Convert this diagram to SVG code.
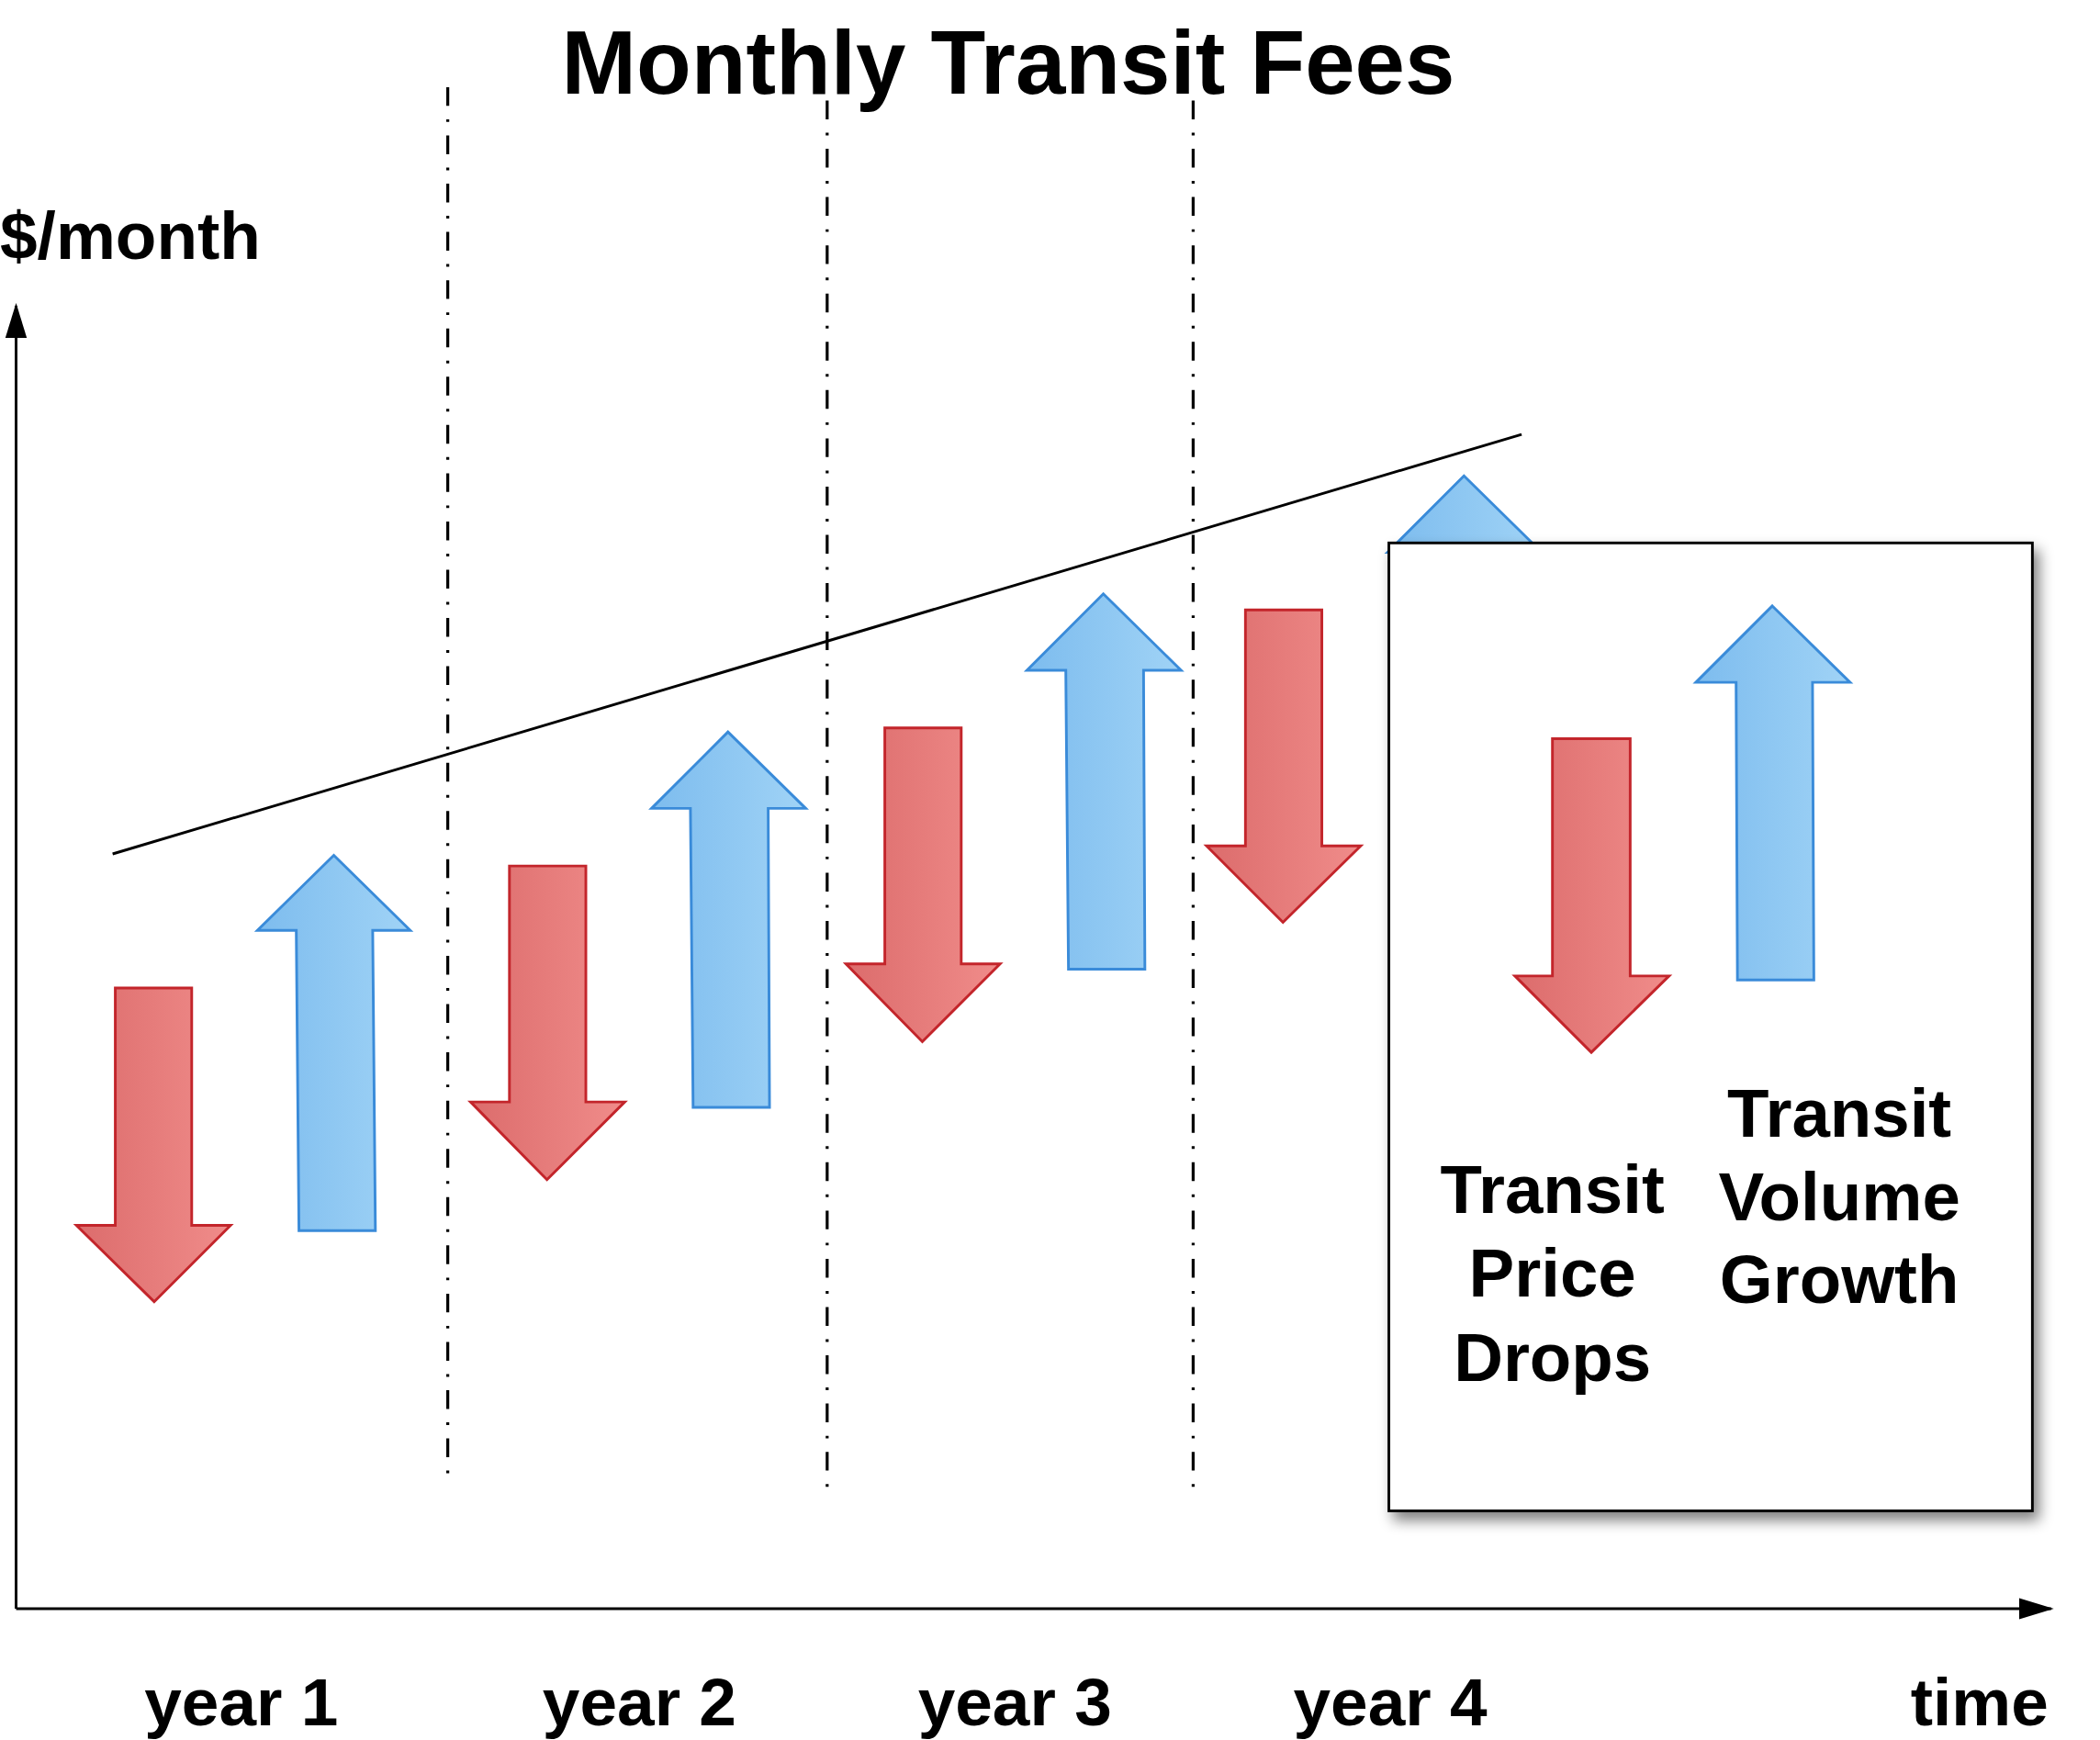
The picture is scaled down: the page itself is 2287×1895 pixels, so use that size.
<svg xmlns="http://www.w3.org/2000/svg" width="2287" height="1895" viewBox="0 0 2287 1895">
<defs>
<linearGradient id="rg" x1="0" y1="0" x2="1" y2="0"><stop offset="0" stop-color="#dc6c6c"/><stop offset="1" stop-color="#f08c8a"/></linearGradient>
<linearGradient id="bg" x1="0" y1="0" x2="1" y2="0"><stop offset="0" stop-color="#7dbcee"/><stop offset="1" stop-color="#a0d3f6"/></linearGradient>
<marker id="ah" markerWidth="26" markerHeight="20" refX="24" refY="10" orient="auto" markerUnits="userSpaceOnUse" viewBox="0 0 26 20"><path d="M0,2 L26,10 L0,18 Z" fill="#000"/></marker>
<filter id="sh" x="-10%" y="-10%" width="130%" height="130%"><feGaussianBlur in="SourceAlpha" stdDeviation="5"/><feOffset dx="4" dy="6"/><feComponentTransfer><feFuncA type="linear" slope="0.5"/></feComponentTransfer><feMerge><feMergeNode/><feMergeNode in="SourceGraphic"/></feMerge></filter>
</defs>
<style>
.t{font-family:"Liberation Sans",Arial,sans-serif;font-weight:bold;fill:#000}
.r{fill:url(#rg);stroke:#c3252b;stroke-width:2}
.b{fill:url(#bg);stroke:#3a8bd9;stroke-width:2}
.d{stroke:#000;stroke-width:2.2;stroke-dasharray:14,10,2,10;fill:none}
</style>
<rect width="2287" height="1895" fill="#fff"/>
<g transform="scale(1.46)">
<text class="t" x="752" y="70" font-size="67" text-anchor="middle">Monthly Transit Fees</text>
<text class="t" x="0" y="193" font-size="50">$/month</text>
<g id="connectors">
<line class="d" x1="334" y1="65" x2="334" y2="1100"/>
<line class="d" x1="617" y1="75" x2="617" y2="1110"/>
<line class="d" x1="890" y1="75" x2="890" y2="1110"/>
<line x1="84" y1="637" x2="1135" y2="324" stroke="#000" stroke-width="2"/>
<line x1="12" y1="1200" x2="12" y2="228" stroke="#000" stroke-width="2" marker-end="url(#ah)"/>
<line x1="12" y1="1200" x2="1530" y2="1200" stroke="#000" stroke-width="2" marker-end="url(#ah)"/>
</g>
<g id="arrows">
<path class="r" d="M86,737 H143 V914 H172 L115,971 L57,914 H86 Z"/>
<path class="b" d="M249,638 L306,694 H278 L280,918 H223 L221,694 H192 Z"/>
<path class="r" d="M380,646 H437 V822 H466 L408,880 L351,822 H380 Z"/>
<path class="b" d="M543,546 L601,603 H573 L574,826 H517 L515,603 H486 Z"/>
<path class="r" d="M660,543 H717 V719 H746 L688,777 L631,719 H660 Z"/>
<path class="b" d="M823,443 L881,500 H853 L854,723 H797 L795,500 H766 Z"/>
<path class="r" d="M929,455 H986 V631 H1015 L957,688 L900,631 H929 Z"/>
<path class="b" d="M1092,355 L1150,412 H1122 L1122,600 H1064 L1064,412 H1035 Z"/>
</g>
<g id="legend">
<rect x="1036" y="405" width="480" height="722" fill="#fff" stroke="#000" stroke-width="2" filter="url(#sh)"/>
<path class="r" d="M1158,551 H1216 V728 H1245 L1187,785 L1130,728 H1158 Z"/>
<path class="b" d="M1322,452 L1380,509 H1352 L1353,731 H1296 L1295,509 H1265 Z"/>
<text class="t" font-size="51" text-anchor="middle"><tspan x="1158" y="905">Transit</tspan><tspan x="1158" y="967">Price</tspan><tspan x="1158" y="1030">Drops</tspan></text>
<text class="t" font-size="51" text-anchor="middle"><tspan x="1372" y="848">Transit</tspan><tspan x="1372" y="910">Volume</tspan><tspan x="1372" y="972">Growth</tspan></text>
</g>
<g id="labels">
<text class="t" x="180" y="1287" font-size="50" text-anchor="middle">year 1</text>
<text class="t" x="477" y="1287" font-size="50" text-anchor="middle">year 2</text>
<text class="t" x="757" y="1287" font-size="50" text-anchor="middle">year 3</text>
<text class="t" x="1037" y="1287" font-size="50" text-anchor="middle">year 4</text>
<text class="t" x="1528" y="1287" font-size="50" text-anchor="end">time</text>
</g>
</g>
</svg>
